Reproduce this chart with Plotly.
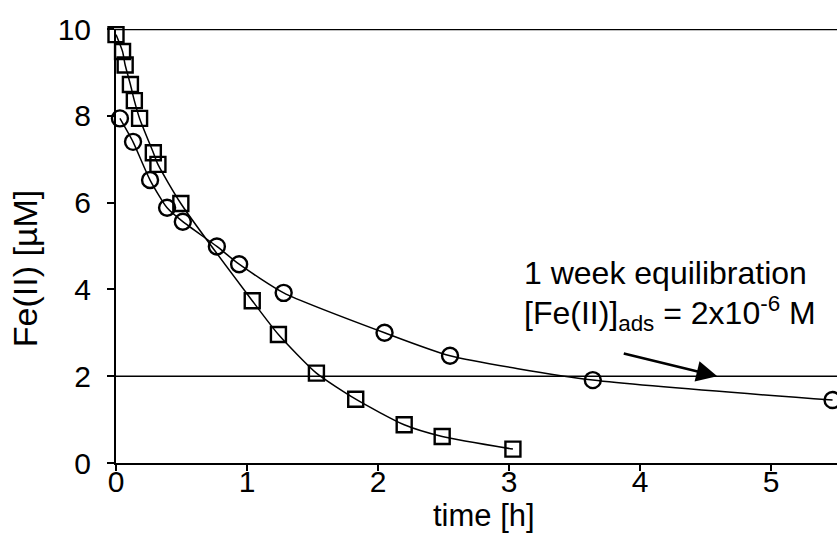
import plotly.graph_objects as go

# Fe(II) in solution over time, two experiments
time_sq = [0.0, 0.05, 0.07, 0.11, 0.14, 0.18, 0.285, 0.32, 0.495, 1.04, 1.24, 1.53, 1.83, 2.20, 2.49, 3.03]
fe_sq = [9.87, 9.48, 9.17, 8.72, 8.35, 7.94, 7.15, 6.88, 5.98, 3.74, 2.96, 2.07, 1.47, 0.88, 0.61, 0.32]

time_ci = [0.03, 0.13, 0.26, 0.39, 0.51, 0.77, 0.94, 1.28, 2.05, 2.55, 3.64, 5.47]
fe_ci = [7.94, 7.40, 6.52, 5.88, 5.56, 4.99, 4.58, 3.92, 3.00, 2.47, 1.91, 1.45]

initial_level = 10
equilibrium_level = 2

x_ticks = [0, 1, 2, 3, 4, 5]
y_ticks = [0, 2, 4, 6, 8, 10]

FONT = "Liberation Sans, Arial, sans-serif"

fig = go.Figure()

fig.add_trace(go.Scatter(
    x=time_sq, y=fe_sq, mode="lines+markers",
    line=dict(color="black", width=1.5, shape="spline", smoothing=0.6),
    marker=dict(symbol="square-open", size=15, color="black", line=dict(width=2.4, color="black")),
    cliponaxis=False, showlegend=False,
))
fig.add_trace(go.Scatter(
    x=time_ci, y=fe_ci, mode="lines+markers",
    line=dict(color="black", width=1.5, shape="spline", smoothing=0.6),
    marker=dict(symbol="circle-open", size=16, color="black", line=dict(width=2.4, color="black")),
    cliponaxis=False, showlegend=False,
))

# reference levels
for lvl, w in [(initial_level, 2.4), (equilibrium_level, 1.6)]:
    fig.add_shape(type="line", xref="paper", x0=0, x1=1.02, yref="y", y0=lvl, y1=lvl,
                  line=dict(color="black", width=w), layer="below")

# text and arrow
fig.add_annotation(x=3.10, y=4.38, xref="x", yref="y", xanchor="left", yanchor="middle",
                   text="1 week equilibration", showarrow=False,
                   font=dict(family=FONT, size=32, color="black"))
fig.add_annotation(x=3.10, y=3.44, xref="x", yref="y", xanchor="left", yanchor="middle",
                   text="[Fe(II)]<sub>ads</sub> = 2x10<sup>-6</sup> M", showarrow=False,
                   font=dict(family=FONT, size=32, color="black"))
fig.add_annotation(x=4.59, y=equilibrium_level, xref="x", yref="y", text="",
                   showarrow=True, ax=-95, ay=-23, arrowhead=2, arrowsize=1.6,
                   arrowwidth=2.6, arrowcolor="black")

# axis titles
fig.add_annotation(x=-0.126, y=0.447, xref="paper", yref="paper", xanchor="center",
                   yanchor="middle", text="Fe(II) [µM]", textangle=-90, showarrow=False,
                   font=dict(family=FONT, size=34, color="black"))
fig.add_annotation(x=2.81, y=-0.121, xref="x", yref="paper", xanchor="center",
                   yanchor="middle", text="time [h]", showarrow=False,
                   font=dict(family=FONT, size=31, color="black"))

tick_font = dict(family=FONT, size=30, color="black")

fig.update_layout(
    width=837, height=535,
    margin=dict(l=116, r=0, t=29, b=72),
    paper_bgcolor="white", plot_bgcolor="white",
    font=dict(family=FONT, size=30, color="black"),
    xaxis=dict(range=[0, 5.504], tickvals=x_ticks, ticks="outside", ticklen=6, tickwidth=2,
               tickcolor="black", showline=True, linecolor="black", linewidth=2,
               showgrid=False, zeroline=False, tickfont=tick_font, ticklabelstandoff=-15),
    yaxis=dict(range=[0, 10], tickvals=y_ticks, ticks="outside", ticklen=7, tickwidth=2,
               tickcolor="black", showline=True, linecolor="black", linewidth=2,
               showgrid=False, zeroline=False, tickfont=tick_font, ticklabelstandoff=10),
)

fig.write_html("out.html")
